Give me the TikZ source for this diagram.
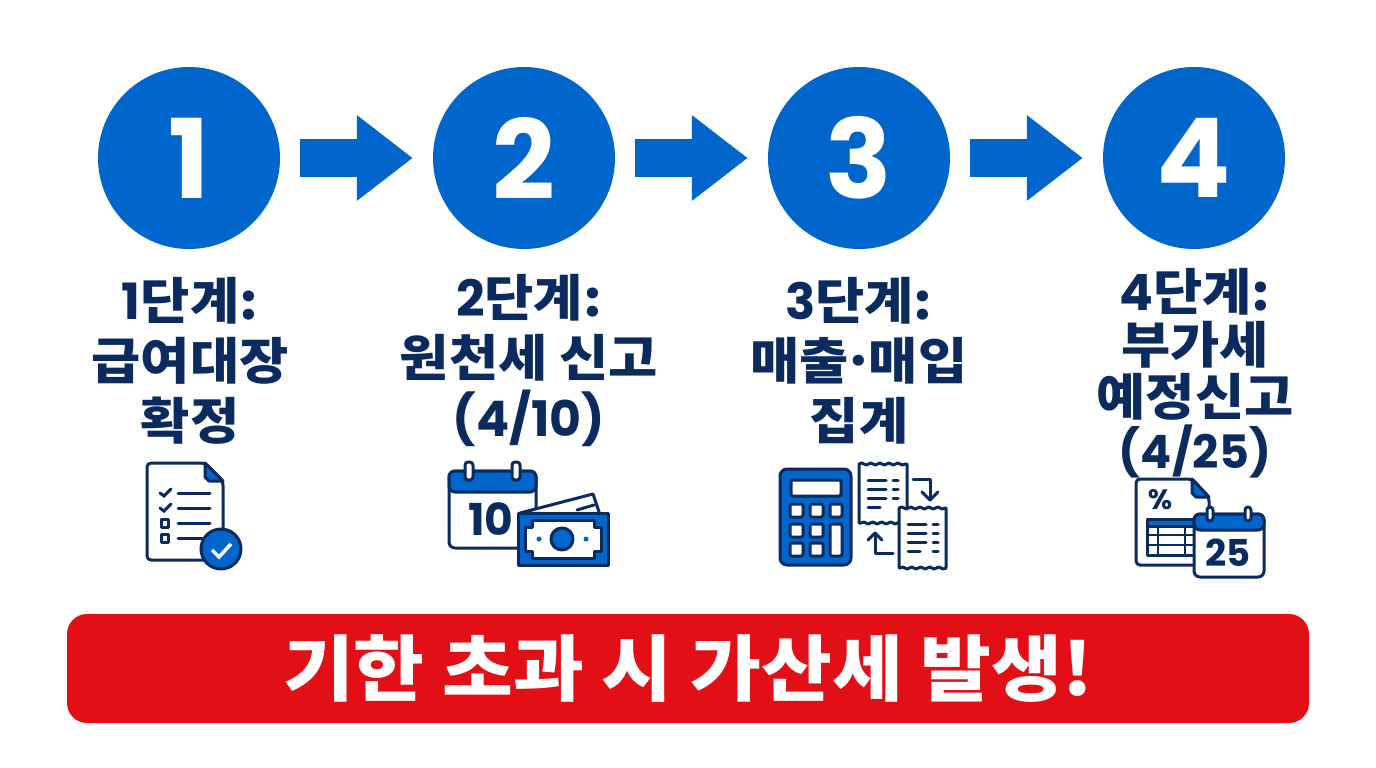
\documentclass[tikz,border=0pt]{standalone}
\usepackage{fontspec}
\setmainfont[BoldFont={Noto Sans CJK KR Black},BoldFeatures={FakeStretch=1.07}]{Noto Sans CJK KR}
\newfontfamily\latn{Poppins}
\newcommand{\num}[1]{{\latn #1}}
\newcommand{\datenum}[2]{{\fontsize{#1}{#1}\selectfont\latn #2}}
\usetikzlibrary{arrows.meta,decorations.pathmorphing}
\definecolor{stepblue}{HTML}{0066CC}
\definecolor{navy}{HTML}{0B2A5E}
\definecolor{alarmred}{HTML}{E30F16}
\tikzset{
    stepnum/.style={circle,fill=stepblue,text=white,minimum size=182pt,inner sep=0pt,font=\fontsize{110}{110}\selectfont\latn\bfseries},
    flowarrow/.style={draw=stepblue,line width=38pt,shorten <=20pt,shorten >=20pt,-{Triangle[length=56pt,width=82pt]}},
    steplabel/.style={text=navy,align=center,inner sep=0pt,font=\fontsize{50}{60}\selectfont\bfseries},
    icon/.style={draw=navy,line width=3pt,line join=round},
    iconfill/.style={icon,fill=stepblue},
    iconline/.style={draw=navy,line width=3pt,line cap=round},
    icontext/.style={text=navy,inner sep=0pt,font=\latn\bfseries},
    wavy/.style={decorate,decoration={snake,amplitude=1pt,segment length=9pt}},
}
\begin{document}
\begin{tikzpicture}[x=1pt,y=-1pt]
    \useasboundingbox (0,0) rectangle (1376,768);
    % circles and arrows
    \node[stepnum] (stepa) at (189,158) {\raisebox{-2.5pt}{1}};
    \node[stepnum] (stepb) at (524,158) {\raisebox{-2.5pt}{2}};
    \node[stepnum] (stepc) at (859,158) {\raisebox{-2.5pt}{3}};
    \node[stepnum] (stepd) at (1194,158) {\raisebox{-2.5pt}{4}};
    \draw[flowarrow] (stepa) -- (stepb);
    \draw[flowarrow] (stepb) -- (stepc);
    \draw[flowarrow] (stepc) -- (stepd);
    % labels
    \node[steplabel] (labela) at (190,361) {\num{1}단계:\\급여대장\\확정};
    \node[steplabel] (labelb) at (529,361) {\num{2}단계:\\원천세 신고\\\datenum{49}{(4/10)}};
    \node[steplabel] (labelc) at (859,361) {\num{3}단계:\\매출\hspace{-6.5pt}·\hspace{-6.5pt}매입\\집계};
    \node[steplabel,font=\fontsize{50}{52.5}\selectfont\bfseries] (labeld) at (1195,373) {\num{4}단계:\\부가세\\예정신고\\\datenum{46}{(4/25)}};
    % icon 1
    \draw[icon,fill=white,rounded corners=4pt] (147,463) -- (205,463) -- (223,481) -- (223,560) -- (147,560) -- cycle;
    \draw[iconfill] (205,463) -- (223,481) -- (209,481) -- (205,477) -- cycle;
    \foreach \y in {493,508,523,538}
        \draw[iconline] (178,\y) -- (210,\y);
    \foreach \y in {493,508}
        \draw[iconline] (160,\y) -- (164,\y+3) -- (171,\y-4);
    \foreach \y in {523,538}
        \draw[icon] (161,\y-4) rectangle (168,\y+4);
    \draw[iconfill] (221,549) circle (20);
    \draw[white,line width=3.5pt] (212,550) -- (219,557) -- (231,544);
    % icon 2
    \draw[icon,fill=white,rounded corners=6pt] (449,471) rectangle (536,548);
    \draw[iconfill,rounded corners=6pt] (449,492) -- (449,471) -- (536,471) -- (536,492) -- cycle;
    \foreach \x in {469,516}
        \draw[icon,fill=white,rounded corners=3pt] (\x-4,462) rectangle (\x+4,480);
    \node[icontext,font=\fontsize{44}{44}\selectfont\latn\bfseries] (dayten) at (491,519) {10};
    \draw[icon,fill=white] (520,513) -- (593,494) -- (600,515) -- cycle;
    \draw[iconline] (577,510) -- (594,505);
    \draw[iconfill] (518,513) rectangle (608,565);
    \draw[icon,fill=white] (532,520) -- (594,520) -- (594,527) -- (601,527) -- (601,551) -- (594,551) -- (594,558) -- (532,558) -- (532,551) -- (525,551) -- (525,527) -- (532,527) -- cycle;
    \draw[iconfill] (562,539) circle (11);
    \fill[stepblue] (539,539) circle (2.5) (586,539) circle (2.5);
    % icon 3
    \draw[iconfill,rounded corners=7pt] (780,469) rectangle (851,565);
    \draw[icon,fill=white,rounded corners=2pt] (791,480) rectangle (841,496);
    \foreach \x in {790,810} \foreach \y in {504,524,543}
        \draw[icon,fill=white,rounded corners=2pt] (\x,\y) rectangle (\x+13,\y+13);
    \draw[icon,fill=white,rounded corners=2pt] (830,504) rectangle (842,517);
    \draw[icon,fill=white,rounded corners=2pt] (830,524) rectangle (842,556);
    \draw[icon,fill=white] (859,464) decorate[wavy] {-- (907,464)} -- (907,523) decorate[wavy] {-- (859,523)} -- cycle;
    \foreach \y in {480,489,498}{
        \draw[iconline] (868,\y) -- (886,\y);
        \draw[iconline] (893,\y) -- (898,\y);
    }
    \draw[iconline] (868,507) -- (880,507);
    \draw[icon,fill=white] (899,508) decorate[wavy] {-- (946,508)} -- (946,568) decorate[wavy] {-- (899,568)} -- cycle;
    \foreach \y in {524,533,542}{
        \draw[iconline] (908,\y) -- (926,\y);
        \draw[iconline] (933,\y) -- (938,\y);
    }
    \draw[iconline] (908,551) -- (920,551);
    \draw[iconline] (933,551) -- (938,551);
    \draw[iconline,line join=round] (913,479) -- (930,479) -- (930,500);
    \draw[iconline,line join=round] (922,492) -- (930,500) -- (938,492);
    \draw[iconline,line join=round] (893,553) -- (875,553) -- (875,533);
    \draw[iconline,line join=round] (868,540) -- (875,533) -- (882,540);
    % icon 4
    \draw[icon,fill=white,rounded corners=4pt] (1136,479) -- (1192,479) -- (1209,497) -- (1209,565) -- (1136,565) -- cycle;
    \draw[iconfill] (1192,479) -- (1209,497) -- (1196,497) -- (1192,493) -- cycle;
    \node[icontext,font=\fontsize{28}{28}\selectfont\latn\bfseries] (percent) at (1160,500) {\%};
    \draw[icon,fill=white] (1147,519) rectangle (1200,555);
    \draw[iconfill] (1147,519) rectangle (1200,526);
    \foreach \y in {535,545}
        \draw[iconline,line width=2pt] (1147,\y) -- (1200,\y);
    \foreach \x in {1158,1185}
        \draw[iconline,line width=2pt] (\x,526) -- (\x,555);
    \draw[icon,fill=white,rounded corners=6pt] (1194,514) rectangle (1264,577);
    \draw[iconfill,rounded corners=6pt] (1194,530) -- (1194,514) -- (1264,514) -- (1264,530) -- cycle;
    \foreach \x in {1210,1248}
        \draw[icon,fill=white,rounded corners=3pt] (\x-3,507) rectangle (\x+3,521);
    \node[icontext,font=\fontsize{37}{37}\selectfont\latn\bfseries] (dayquarter) at (1228,553) {25};
    % banner
    \node[fill=alarmred,text=white,rounded corners=20pt,minimum width=1242pt,minimum height=109pt,inner sep=0pt,font=\fontsize{72}{72}\selectfont\bfseries] (banner) at (688,668.5) {\raisebox{-1.5pt}{기한 초과 시 가산세 발생!}};
\end{tikzpicture}
\end{document}
